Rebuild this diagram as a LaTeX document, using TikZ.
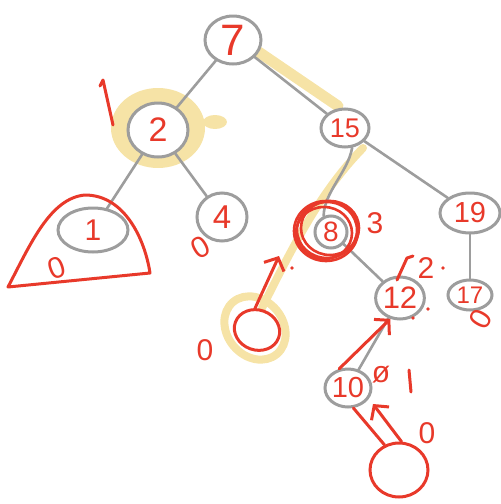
\documentclass[tikz,border=0pt]{standalone}
\usepackage{fontspec}
\setmainfont{Liberation Sans}
\usepackage{tikz}
\usetikzlibrary{shapes.geometric}
\usetikzlibrary{arrows.meta}
\usepackage{xcolor}
\definecolor{pen}{HTML}{E8392A}
\definecolor{lead}{HTML}{9D9D9D}
\definecolor{marker}{HTML}{F6E3A6}

\tikzset{
  tnode/.style={ellipse, draw=lead, line width=3pt, fill=white, text=pen, inner sep=0pt},
  edge/.style={lead, line width=2.6pt, line cap=round},
  ink/.style={pen, line width=3pt, line cap=round, line join=round},
  inkarrow/.style={ink, -{Straight Barb[length=10pt,width=22pt,line width=3pt]}},
  hl/.style={marker, line width=10pt, line cap=round, line join=round},
  note/.style={text=pen, inner sep=0pt, font=\fontsize{30}{30}\selectfont}
}

\begin{document}
\begin{tikzpicture}[x=1pt,y=-1pt]
        \useasboundingbox (0,0) rectangle (501,504);

        % highlighter under the tree
        \fill[marker] (158,128) ellipse [x radius=47, y radius=40];
        \fill[marker] (215,122) ellipse [x radius=12, y radius=7];
        \draw[hl, line width=11pt] (244,42) -- (338,106);
        \draw[hl, line width=8pt] (363,148) .. controls (322,190) and (296,240) .. (262,308);
        \draw[hl, line width=8pt, rotate around={-50:(255,328)}] (255,328) ellipse [x radius=34, y radius=28];

        % the tree
        \foreach \n/\x/\y/\w/\h/\s in {7/233/40/56/48/44, 2/158/130/60/54/34, 15/345/128/48/38/27,
                                        1/93/230/70/44/30, 4/222/217/50/48/33, 19/470/213/60/40/29,
                                        12/400/298/48/42/31, 17/470/295/44/30/24, 10/348/388/46/38/29}
        {
            \node[tnode, minimum width=\w pt, minimum height=\h pt, font=\fontsize{\s}{\s}\selectfont] (n\n) at (\x,\y) {\n};
        }
        \node[tnode, minimum width=32pt, minimum height=32pt, font=\fontsize{28}{28}\selectfont] (n8) at (331,232) {8};

        \foreach \a/\b in {7/2, 7/15, 2/1, 2/4, 15/19, 8/12, 19/17, 12/10}
            \draw[edge] (n\a) -- (n\b);
        \draw[edge] (n15.290) .. controls (348,172) and (324,192) .. (n8.115);

        % deleted node, scribbled over
        \foreach \dx/\dy/\r in {0/0/30, -3/3/28, 3/-2/29, -1/1/32}
            \draw[ink, line width=2.6pt] (327+\dx,230+\dy) ellipse [x radius=\r, y radius=\r-2];

        % empty leaves
        \node[draw=pen, line width=3pt, ellipse, minimum width=46pt, minimum height=40pt, rotate=-20] (z8) at (257,330) {};
        \node[draw=pen, line width=3pt, ellipse, minimum width=58pt, minimum height=54pt] (z10) at (399,470) {};

        % subtree of 1
        \draw[ink] (8,287) .. controls (30,245) and (50,198) .. (85,195)
                   .. controls (125,195) and (145,240) .. (150,273) -- cycle;

        \coordinate (tip8) at (279,256);
        \coordinate (tip10) at (373,404);
        \draw[inkarrow] (z8.115) -- (tip8);
        \draw[inkarrow] (n10.115) -- (n12.245);
        \draw[inkarrow] (z10.85) -- (tip10);
        \draw[ink] (n10.285) -- (z10.120);

        % heights and balance marks
        \draw[ink] (100,86) -- (103,80) -- (113,125);
        \draw[ink] (397,280) -- (407,258) -- (413,256);
        \draw[ink] (409,370) -- (411,392);
        \node[note, rotate=20] (h1) at (57,268) {0};
        \node[note, rotate=30] (h4) at (201,247) {0};
        \node[note] (h8) at (375,223) {3};
        \node[note] (hz) at (205,350) {0};
        \node[note] (h12) at (426,268) {2};
        \node[note] (b10) at (381,375) {ø};
        \node[note] (hz10) at (427,433) {0};
        \node[note, rotate=60] (h17) at (481,319) {0};
        \foreach \x/\y in {292/268, 443/268, 413/318, 428/309}
            \fill[pen] (\x,\y) circle (1.8);
\end{tikzpicture}
\end{document}
